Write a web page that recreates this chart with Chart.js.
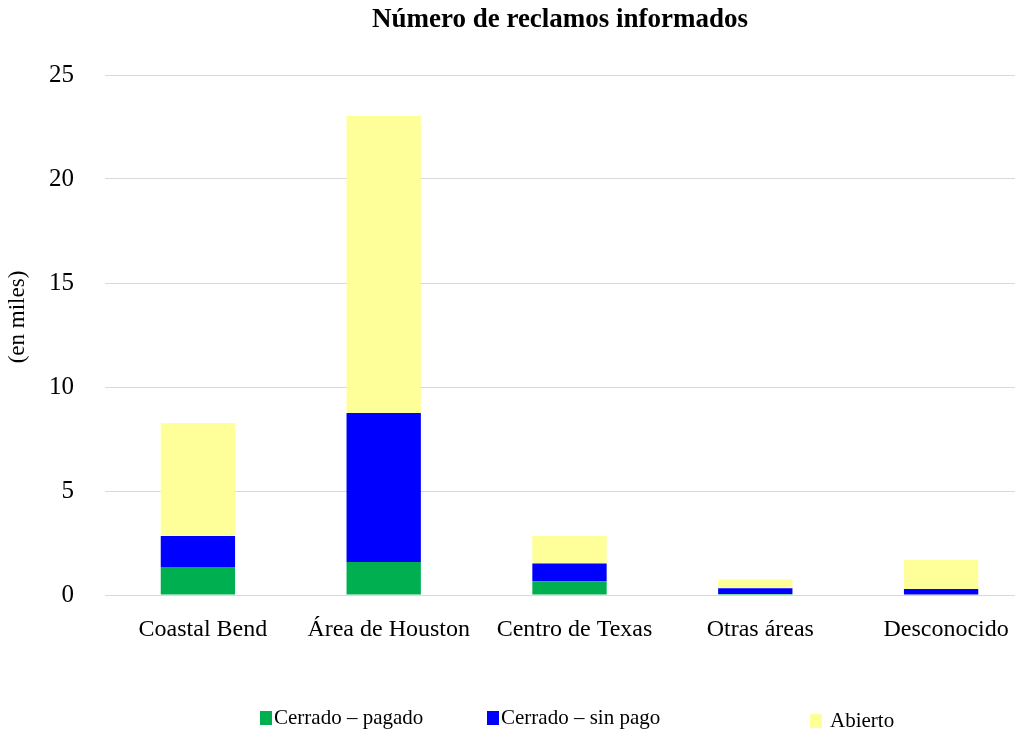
<!DOCTYPE html>
<html>
<head>
<meta charset="utf-8">
<script src="https://cdn.jsdelivr.net/npm/chart.js@4"></script>
<style>
  html, body { margin: 0; padding: 0; background: #fff; }
  #wrap { width: 1034px; height: 736px; }
</style>
</head>
<body>
<div id="wrap"><canvas id="claimsChart"></canvas></div>
<script>
const categories = ['Coastal Bend', 'Área de Houston', 'Centro de Texas', 'Otras áreas', 'Desconocido'];
const cerradoPagado = [1.35, 1.59, 0.66, 0.05, 0.03];
const cerradoSinPago = [1.49, 7.16, 0.86, 0.27, 0.26];
const abierto = [5.43, 14.28, 1.32, 0.43, 1.39];
const yTicks = [0, 5, 10, 15, 20, 25];
const chartTitle = 'Número de reclamos informados';
const yTitle = '(en miles)';

const serif = 'Liberation Serif, Times New Roman, serif';

// title, axis title and legend drawn by hand: in the original they sit off-centre / unevenly spaced
const legendSpots = [260, 487, 810];
const manualText = {
    id: 'manualText',
    beforeDatasetsDraw(chart) {
        // original grid lines stop a bit short of the right edge
        const c = chart.ctx;
        c.save();
        c.fillStyle = '#fff';
        c.fillRect(1015, 0, chart.width - 1015, chart.chartArea.bottom + 3);
        c.restore();
    },
    afterDraw(chart) {
        const c = chart.ctx;
        c.save();
        c.fillStyle = '#000';
        c.font = 'bold 27px ' + serif;
        c.textAlign = 'center';
        c.textBaseline = 'middle';
        c.fillText(chartTitle, 560, 20);

        c.save();
        c.translate(18, 317);
        c.rotate(-Math.PI / 2);
        c.font = '23px ' + serif;
        c.fillText(yTitle, 0, 0);
        c.restore();

        c.textAlign = 'left';
        c.font = '21px ' + serif;
        chart.data.datasets.forEach((ds, i) => {
            const x = legendSpots[i];
            const y = i === 2 ? 721 : 718;
            c.fillStyle = ds.backgroundColor;
            c.fillRect(x, y - 7, 12, 14);
            c.fillStyle = '#000';
            c.fillText(ds.label, x + (i === 2 ? 20 : 14), y);
        });
        c.restore();
    }
};

const ctx = document.getElementById('claimsChart').getContext('2d');

const claimsChart = new Chart(ctx, {
    type: 'bar',
    data: {
        labels: categories,
        datasets: [
            { label: 'Cerrado – pagado', data: cerradoPagado, backgroundColor: '#00b050' },
            { label: 'Cerrado – sin pago', data: cerradoSinPago, backgroundColor: '#0000ff' },
            { label: 'Abierto', data: abierto, backgroundColor: '#ffff99' }
        ]
    },
    plugins: [manualText],
    options: {
        responsive: true,
        maintainAspectRatio: false,
        animation: false,
        barPercentage: 0.4,
        categoryPercentage: 1,
        layout: { padding: { left: 0, right: 0, top: 75, bottom: 81 } },
        plugins: {
            title: { display: false },
            legend: { display: false },
            tooltip: { enabled: false }
        },
        scales: {
            x: {
                stacked: true,
                grid: { display: false },
                border: { color: '#d9d9d9' },
                ticks: {
                    color: '#000',
                    font: { family: serif, size: 24 },
                    padding: 12,
                    labelOffset: 5
                },
                afterFit: (scale) => { scale.height = 60; }
            },
            y: {
                stacked: true,
                min: 0,
                max: 25,
                afterBuildTicks: (scale) => { scale.ticks = yTicks.map(v => ({ value: v })); },
                grid: { color: '#d9d9d9', drawTicks: false },
                border: { display: false },
                ticks: {
                    color: '#000',
                    font: { family: serif, size: 25 },
                    padding: 31
                },
                afterFit: (scale) => { scale.width = 105; }
            }
        }
    }
});
</script>
</body>
</html>
